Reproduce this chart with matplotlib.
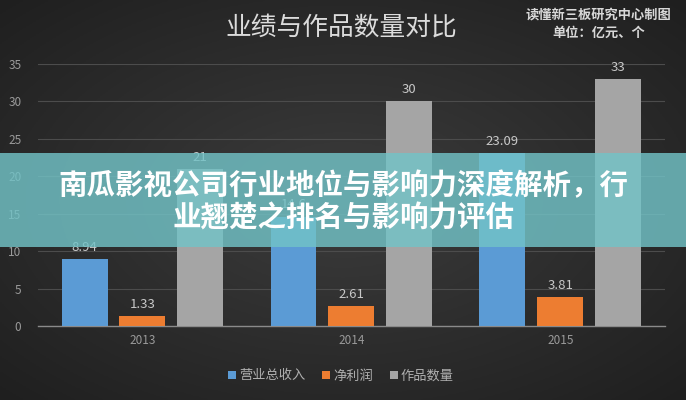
import numpy as np
import matplotlib
matplotlib.use("Agg")
import matplotlib.pyplot as plt
from matplotlib.patches import Rectangle, Patch

plt.rcParams['font.family'] = ['Noto Sans CJK SC', 'DejaVu Sans']

years = ['2013', '2014', '2015']
revenue = [8.94, 14.6, 23.09]
profit = [1.33, 2.61, 3.81]
works = [21, 30, 33]
series_names = ['营业总收入', '净利润', '作品数量']
yticks = [0, 5, 10, 15, 20, 25, 30, 35]

colors = ['#5b9bd5', '#ed7d31', '#a5a5a5']

fig = plt.figure(figsize=(6.86, 4.0), dpi=100)

# vignette background
bg = fig.add_axes([0, 0, 1, 1], zorder=-10)
yy, xx = np.mgrid[-1:1:200j, -1:1:344j]
r = np.sqrt(xx**2 + yy**2)
val = 0.235 - 0.08 * np.clip(r, 0, 1.5)
img = np.dstack([val, val, val])
bg.imshow(img, aspect='auto', extent=[0, 1, 0, 1])
bg.axis('off')

ax = fig.add_axes([0.0554, 0.185, 0.9136, 0.655])
ax.set_facecolor('none')
x = np.arange(len(years))
w = 0.22
off = 0.277
label_kw = dict(ha='center', va='bottom', color='#c8c8c8', fontsize=9.5)
for i, (vals, c) in enumerate(zip([revenue, profit, works], colors)):
    xs = x + (i - 1) * off
    ax.bar(xs, vals, width=w, color=c, zorder=3)
    for xi, v in zip(xs, vals):
        ax.text(xi, v + 0.7, f'{v:g}', **label_kw, zorder=4)

ax.set_xlim(-0.5, 2.5)
ax.set_ylim(0, 35)
ax.set_yticks(yticks)
ax.set_xticks(x)
ax.set_xticklabels(years)
ax.tick_params(axis='both', length=0, colors='#9a9a9a', labelsize=8.5)
ax.tick_params(axis='y', pad=12)
ax.tick_params(axis='x', pad=6)
ax.grid(axis='y', color='#4c4c4c', linewidth=0.8, zorder=0)
for s in ['top', 'right', 'left']:
    ax.spines[s].set_visible(False)
ax.spines['bottom'].set_color('#8a8a8a')
ax.spines['bottom'].set_linewidth(1.0)

fig.text(0.497, 0.93, '业绩与作品数量对比', ha='center', va='center',
         color='#dcdcdc', fontsize=18.5)
fig.text(0.873, 0.963, '读懂新三板研究中心制图', ha='center', va='center',
         color='#d8d8d8', fontsize=9.5, fontweight='bold')
fig.text(0.873, 0.918, '单位：亿元、个', ha='center', va='center',
         color='#d8d8d8', fontsize=9.5, fontweight='bold')

handles = [Patch(facecolor=c, edgecolor='none') for c in colors]
fig.legend(handles, series_names, loc='center', bbox_to_anchor=(0.497, 0.06),
           ncol=3, frameon=False, handlelength=0.6, handleheight=0.6,
           handletextpad=0.2, columnspacing=1.3, fontsize=9.5,
           labelcolor='#b0b0b0')

# banner overlay
fig.patches.append(Rectangle((0, 0.3825), 1, 0.235, transform=fig.transFigure,
                             facecolor='#72c3c7', alpha=0.82, edgecolor='none',
                             zorder=20))
fig.text(0.5, 0.535, '南瓜影视公司行业地位与影响力深度解析，行', ha='center',
         va='center', color='white', fontsize=20.5, fontweight='bold', zorder=21)
fig.text(0.5, 0.455, '业翘楚之排名与影响力评估', ha='center',
         va='center', color='white', fontsize=20.5, fontweight='bold', zorder=21)

fig.savefig('out.png', dpi=100)
